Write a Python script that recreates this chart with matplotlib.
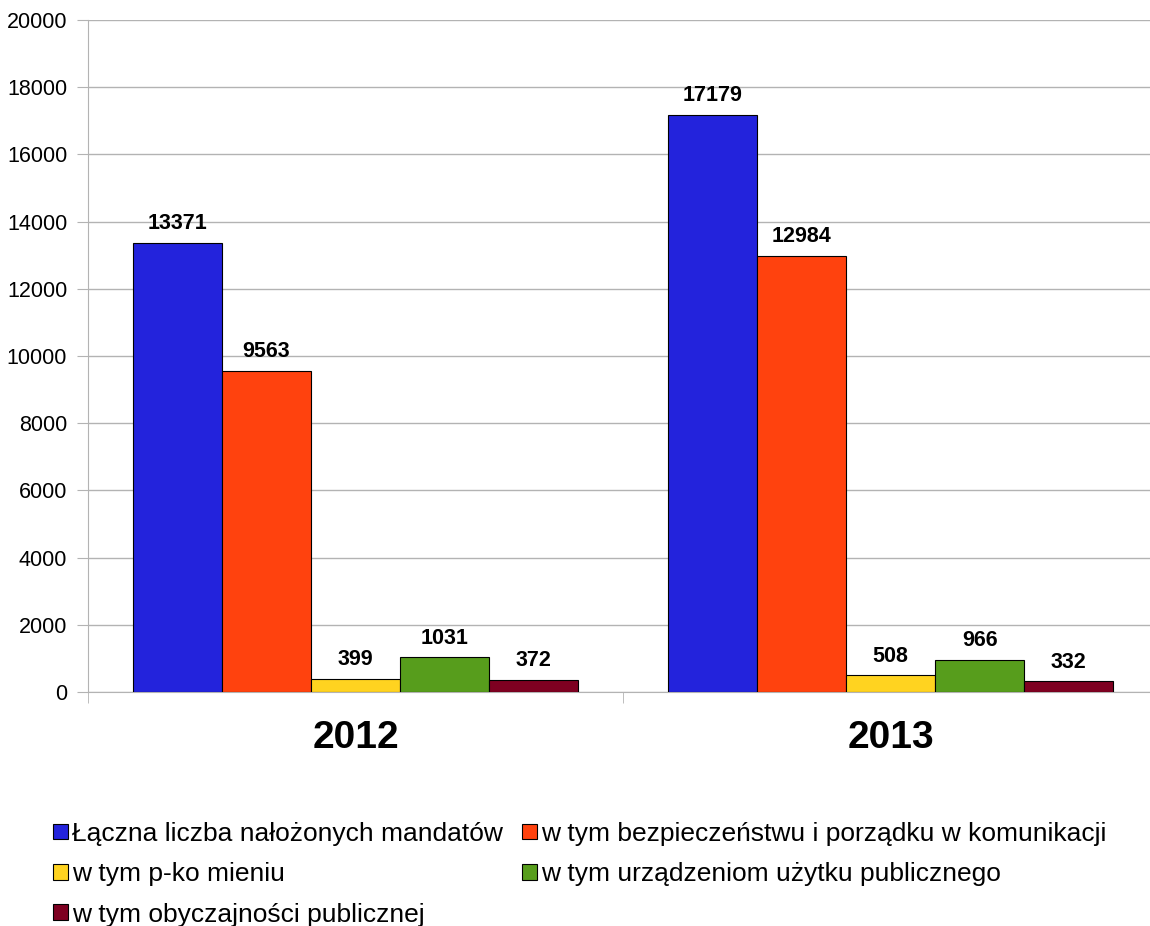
import numpy as np
import matplotlib
matplotlib.use("Agg")
import matplotlib.pyplot as plt

plt.rcParams['font.family'] = ['Liberation Sans', 'DejaVu Sans']

years = ['2012', '2013']
series = [
    'Łączna liczba nałożonych mandatów',
    'w tym bezpieczeństwu i porządku w komunikacji',
    'w tym p-ko mieniu',
    'w tym urządzeniom użytku publicznego',
    'w tym obyczajności publicznej',
]
values = [
    [13371, 17179],
    [9563, 12984],
    [399, 508],
    [1031, 966],
    [372, 332],
]
colors = ['#2323dc', '#ff420e', '#ffd320', '#579d1c', '#7e0021']

fig = plt.figure(figsize=(11.5, 9.26), dpi=100)
ax = fig.add_axes([0.0765, 0.2527, 0.9304, 0.7257])

x = np.arange(len(years))
w = 0.8333 / len(series)
for i, (name, vals, c) in enumerate(zip(series, values, colors)):
    pos = x - 0.8333 / 2 + w * (i + 0.5)
    bars = ax.bar(pos, vals, w, color=c, edgecolor='black', linewidth=0.8,
                  label=name, zorder=3)
    for b, v in zip(bars, vals):
        ax.annotate(str(v), (b.get_x() + b.get_width() / 2, v),
                    xytext=(0, 6), textcoords='offset points',
                    ha='center', va='bottom', fontsize=15.5, fontweight='bold')

ax.set_xlim(-0.5, 1.5)
ax.set_ylim(0, 20000)
ax.set_yticks(np.arange(0, 20001, 2000))
ax.yaxis.grid(True, color='#b3b3b3', linewidth=1, zorder=0)
ax.set_xticks(x)
ax.set_xticklabels(years, fontsize=28, fontweight='bold')
ax.set_xticks([-0.5, 0.5, 1.5], minor=True)
ax.tick_params(axis='x', which='major', length=0, pad=20)
ax.tick_params(axis='x', which='minor', length=8, color='#b3b3b3')
ax.tick_params(axis='y', length=8, color='#b3b3b3', labelsize=15.5, pad=7)
for s in ['top', 'right']:
    ax.spines[s].set_visible(False)
ax.spines['left'].set_color('#b3b3b3')
ax.spines['bottom'].set_color('#b3b3b3')

h, l = ax.get_legend_handles_labels()
order = [0, 2, 4, 1, 3]
fig.legend([h[i] for i in order], [l[i] for i in order], loc='upper center',
           bbox_to_anchor=(0.504, 0.1125), ncol=2, frameon=False,
           fontsize=19, handlelength=0.55, handleheight=0.55,
           handletextpad=0.15, columnspacing=0.75, labelspacing=0.62,
           borderaxespad=0, borderpad=0)

fig.savefig('out.png', dpi=100)
